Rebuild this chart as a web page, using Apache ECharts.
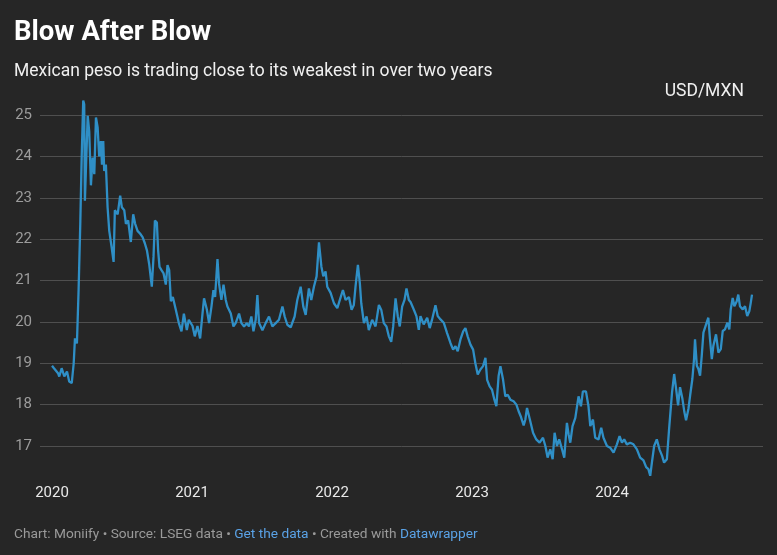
<!DOCTYPE html>
<html>
<head>
<meta charset="utf-8">
<script src="https://cdn.jsdelivr.net/npm/echarts@6/dist/echarts.min.js"></script>
<style>
html,body{margin:0;padding:0;background:#262626;}
#chart{width:777px;height:555px;}
</style>
</head>
<body>
<div id="chart"></div>
<script>
// Time as years since start (2020.0)
const startYear = 2020;
const yearOffset = [
0.000,0.014,0.043,0.052,0.069,0.088,0.107,0.123,0.141,0.155,0.164,0.178,0.190,0.202,0.212,0.223,0.230,0.235,0.245,0.255,
0.266,0.278,0.290,0.302,0.314,0.326,0.337,0.349,0.357,0.366,0.373,0.385,0.397,0.409,0.426,0.440,0.449,0.469,0.487,0.499,
0.516,0.528,0.544,0.563,0.580,0.594,0.611,0.630,0.647,0.663,0.678,0.694,0.713,0.725,0.735,0.749,0.758,0.768,0.782,0.797,
0.813,0.825,0.837,0.849,0.863,0.884,0.906,0.925,0.942,0.963,0.977,1.004,1.020,1.039,1.058,1.075,1.086,1.106,1.122,1.139,
1.153,1.165,1.182,1.193,1.210,1.225,1.241,1.253,1.277,1.296,1.312,1.336,1.353,1.372,1.391,1.407,1.424,1.439,1.455,1.467,
1.479,1.503,1.526,1.550,1.574,1.598,1.621,1.646,1.662,1.681,1.705,1.733,1.752,1.776,1.795,1.812,1.835,1.852,1.871,1.890,
1.907,1.924,1.938,1.954,1.966,1.990,2.014,2.038,2.056,2.078,2.097,2.121,2.140,2.156,2.168,2.185,2.199,2.209,2.228,2.247,
2.263,2.287,2.311,2.335,2.352,2.370,2.389,2.406,2.423,2.437,2.454,2.470,2.484,2.501,2.518,2.532,2.549,2.561,2.584,2.603,
2.620,2.632,2.655,2.680,2.698,2.715,2.739,2.755,2.775,2.798,2.822,2.846,2.865,2.882,2.898,2.917,2.937,2.953,2.969,2.989,
3.008,3.024,3.041,3.060,3.079,3.096,3.108,3.126,3.143,3.160,3.174,3.190,3.203,3.222,3.238,3.255,3.274,3.297,3.317,3.333,
3.350,3.369,3.381,3.393,3.412,3.436,3.459,3.483,3.507,3.524,3.540,3.559,3.576,3.590,3.607,3.623,3.643,3.659,3.678,3.690,
3.702,3.718,3.738,3.761,3.778,3.792,3.814,3.832,3.845,3.864,3.880,3.904,3.923,3.939,3.964,3.987,4.011,4.035,4.054,4.071,
4.087,4.106,4.130,4.153,4.178,4.201,4.225,4.244,4.260,4.273,4.285,4.301,4.320,4.339,4.358,4.372,4.392,4.408,4.429,4.444,
4.458,4.472,4.486,4.503,4.517,4.529,4.546,4.558,4.574,4.586,4.593,4.606,4.617,4.629,4.641,4.653,4.672,4.688,4.700,4.713,
4.724,4.743,4.760,4.777,4.791,4.807,4.824,4.838,4.848,4.862,4.874,4.891,4.902,4.914,4.934,4.950,4.966,4.981,4.991,5.000
];
// USD/MXN rate
const usdmxn = [
18.94,18.88,18.76,18.68,18.88,18.68,18.80,18.56,18.52,19.00,19.60,19.48,20.77,22.37,23.97,25.35,25.26,22.93,23.97,24.98,
24.60,23.30,23.97,23.57,24.94,24.70,24.00,24.37,23.80,24.37,23.65,23.80,22.77,22.20,21.80,21.45,22.70,22.60,23.05,22.77,
22.70,22.37,22.45,21.93,22.60,22.37,22.20,22.13,22.05,21.90,21.73,21.40,20.85,21.57,22.45,22.40,21.73,21.33,21.25,21.17,
20.90,21.37,21.25,20.50,20.60,20.30,19.97,19.77,20.20,19.80,20.05,19.90,19.65,19.90,19.60,20.20,20.57,20.30,19.97,20.37,
20.77,20.60,21.52,20.93,20.53,20.90,20.53,20.37,20.20,19.89,19.97,20.20,19.97,19.89,19.97,19.89,20.13,19.77,20.05,20.65,
19.97,19.80,19.97,20.13,19.89,19.97,20.05,20.37,20.13,19.93,19.87,20.13,20.53,20.85,20.37,20.17,20.81,20.53,20.85,21.10,
21.92,21.34,21.10,21.22,20.85,20.70,20.45,20.33,20.53,20.77,20.53,20.60,20.29,20.41,20.85,21.38,20.93,20.45,19.97,20.13,
19.80,20.05,19.89,20.41,20.29,19.97,19.89,19.65,19.52,19.89,20.57,20.13,19.89,20.37,20.53,20.81,20.53,20.48,20.30,20.14,
19.81,20.14,19.94,20.10,19.85,20.06,20.40,20.14,20.06,19.98,19.73,19.49,19.33,19.41,19.29,19.57,19.77,19.85,19.65,19.45,
19.33,19.00,18.73,18.85,18.93,19.13,18.60,18.44,18.36,18.12,17.96,18.69,18.93,18.60,18.20,18.24,18.12,18.08,18.00,17.84,
17.70,17.50,17.64,17.92,17.66,17.32,17.16,17.08,17.20,17.00,16.72,16.92,16.68,17.32,17.00,17.16,16.92,16.72,17.56,17.28,
17.08,17.48,17.68,18.20,17.96,18.32,18.32,17.96,17.48,17.64,17.20,17.16,17.44,17.20,17.00,16.96,16.84,17.04,17.24,17.08,
17.16,17.04,17.08,17.04,16.92,16.72,16.65,16.49,16.44,16.28,16.60,17.00,17.16,16.92,16.76,16.60,16.68,17.42,18.30,18.74,
18.38,17.98,18.42,18.14,17.82,17.62,17.90,18.22,18.62,19.10,19.58,18.94,18.86,18.70,19.18,19.74,19.94,20.10,19.58,19.10,
19.42,19.70,19.26,19.34,19.78,19.82,19.98,19.82,20.30,20.58,20.38,20.50,20.66,20.38,20.30,20.38,20.14,20.26,20.46,20.66
];
const yearTicks = [2020, 2021, 2022, 2023, 2024];
const yMin = 17, yMax = 25;

const seriesData = yearOffset.map((o, i) => [startYear + o, usdmxn[i]]);

const chart = echarts.init(document.getElementById('chart'), null, {renderer: 'canvas'});
const FONT = 'Roboto, "Noto Sans", sans-serif';
chart.setOption({
  backgroundColor: '#262626',
  animation: false,
  textStyle: {fontFamily: FONT},
  title: [
    {text: 'Blow After Blow', left: 14, top: 19, padding: 0,
     textStyle: {color: '#ffffff', fontSize: 27.5, fontWeight: 'bold', fontFamily: FONT}},
    {text: 'Mexican peso is trading close to its weakest in over two years', left: 14, top: 63, padding: 0,
     textStyle: {color: '#f0f0f0', fontSize: 17.5, fontWeight: 'normal', fontFamily: FONT}},
    {text: 'USD/MXN', right: 33, top: 83, padding: 0,
     textStyle: {color: '#f0f0f0', fontSize: 17.5, fontWeight: 'normal', fontFamily: FONT}},
    {text: 'Chart: Moniify • Source: LSEG data • {l|Get the data} • Created with {l|Datawrapper}', left: 14, top: 528, padding: 0,
     textStyle: {color: '#9a9a9a', fontSize: 13.7, fontWeight: 'normal', fontFamily: FONT,
       rich: {l: {color: '#5aa2e6', fontSize: 13.7, fontFamily: FONT}}}}
  ],
  grid: [
    {left: 40, right: 14, top: 115, bottom: 109},
    {left: 52, right: 25, top: 115, bottom: 109}
  ],
  xAxis: [
    {gridIndex: 0, type: 'value', min: 0, max: 1, show: false},
    {gridIndex: 1, type: 'value', min: 2020, max: 2025, interval: 1,
     axisLine: {show: false}, axisTick: {show: false}, splitLine: {show: false},
     axisLabel: {color: '#e8e8e8', fontSize: 15, margin: 40, fontFamily: FONT,
       formatter: v => yearTicks.includes(v) ? String(v) : ''}}
  ],
  yAxis: [
    {gridIndex: 0, type: 'value', min: yMin, max: yMax, interval: 1,
     axisLine: {show: false}, axisTick: {show: false},
     splitLine: {lineStyle: {color: '#4f4f4f', width: 1}},
     axisLabel: {color: '#9c9c9c', fontSize: 15, margin: 8, fontFamily: FONT}},
    {gridIndex: 1, type: 'value', min: yMin, max: yMax, interval: 1, show: false,
     splitLine: {show: false}}
  ],
  series: [{
    type: 'line', xAxisIndex: 1, yAxisIndex: 1, data: seriesData,
    showSymbol: false, clip: false, smooth: false,
    lineStyle: {color: '#2f8fc6', width: 2.3},
    itemStyle: {color: '#2f8fc6'}
  }]
});
</script>
</body>
</html>
